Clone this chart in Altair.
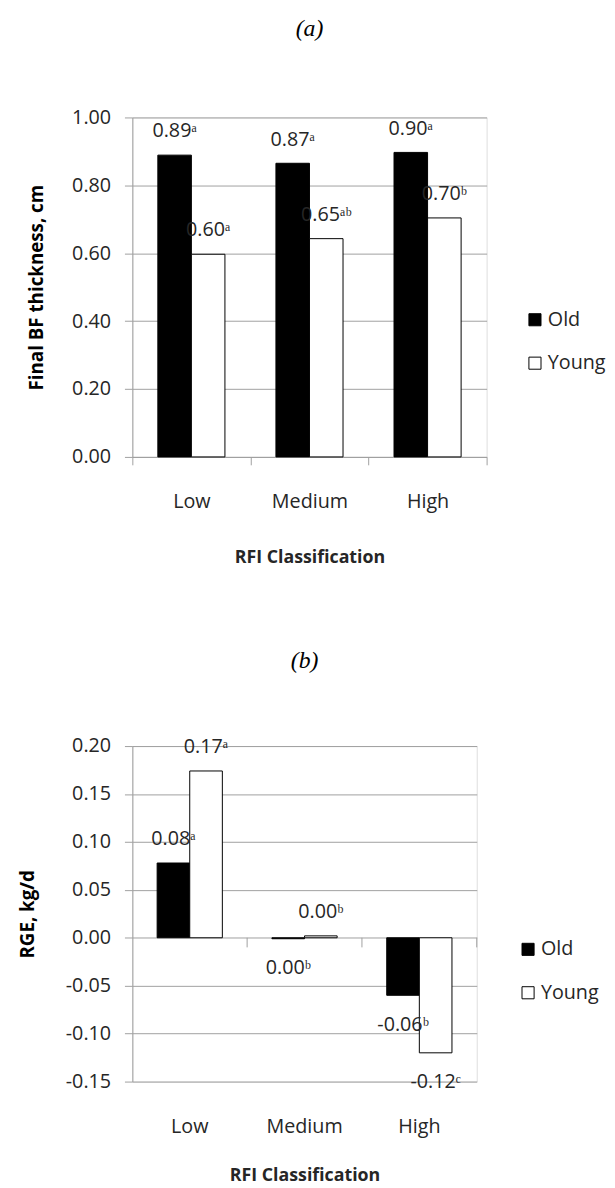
import altair as alt
import pandas as pd

categories = ["Low", "Medium", "High"]
groups = ["Old", "Young"]

# Panel (a): Final BF thickness, cm
bf_old = [0.889, 0.865, 0.897]
bf_young = [0.597, 0.643, 0.704]
bf_old_labels = ["0.89ᵃ", "0.87ᵃ", "0.90ᵃ"]
bf_young_labels = ["0.60ᵃ", "0.65ᵃᵇ", "0.70ᵇ"]
bf_ticks = [0.0, 0.2, 0.4, 0.6, 0.8, 1.0]

# Panel (b): RGE, kg/d
rge_old = [0.078, -0.001, -0.060]
rge_young = [0.174, 0.002, -0.120]
rge_old_labels = ["0.08ᵃ", "0.00ᵇ", "-0.06ᵇ"]
rge_young_labels = ["0.17ᵃ", "0.00ᵇ", "-0.12ᶜ"]
rge_ticks = [-0.15, -0.10, -0.05, 0.0, 0.05, 0.10, 0.15, 0.20]


def make_df(old, young, old_lab, young_lab):
    rows = []
    for i, c in enumerate(categories):
        rows.append({"cat": c, "grp": "Old", "val": old[i], "lab": old_lab[i]})
        rows.append({"cat": c, "grp": "Young", "val": young[i], "lab": young_lab[i]})
    return pd.DataFrame(rows)


df_a = make_df(bf_old, bf_young, bf_old_labels, bf_young_labels)
df_b = make_df(rge_old, rge_young, rge_old_labels, rge_young_labels)
ticks_df = pd.DataFrame({"cat": categories})

FONT = "Open Sans"
TXT = "#262626"
GRID = "#a0a0a0"
LABEL_EXPR = "replace(format(datum.value, '.2f'), '\u2212', '-')"


def panel(df, title, title_offset, ytitle, ydomain, yticks, width, height,
          legend_x, legend_y, zero_axis, y_title_pad, x_title_pad, x_label_pad):
    if zero_axis:
        xaxis = alt.Axis(title="RFI Classification", labelAngle=0, domain=False,
                         ticks=False, grid=False, labelFontSize=20, labelFont=FONT,
                         labelColor=TXT, labelPadding=x_label_pad, titleFont=FONT,
                         titleFontSize=18, titleFontWeight="bold", titleColor=TXT,
                         titlePadding=x_title_pad)
    else:
        xaxis = alt.Axis(title="RFI Classification", labelAngle=0, domainColor=GRID,
                         tickColor=GRID, tickSize=8, tickBand="extent", grid=False,
                         labelFontSize=20, labelFont=FONT, labelColor=TXT,
                         labelPadding=x_label_pad, titleFont=FONT, titleFontSize=18,
                         titleFontWeight="bold", titleColor=TXT,
                         titlePadding=x_title_pad)
    xscale = alt.Scale(paddingInner=0, paddingOuter=0)
    x = alt.X("cat:N", sort=categories, scale=xscale, axis=xaxis)
    xo = alt.XOffset("grp:N", sort=groups,
                     scale=alt.Scale(paddingInner=0, paddingOuter=0.76))
    y = alt.Y("val:Q",
              scale=alt.Scale(domain=ydomain, nice=False, zero=False),
              axis=alt.Axis(values=yticks, labelExpr=LABEL_EXPR, title=ytitle,
                            domainColor=GRID, tickColor=GRID, tickSize=8,
                            gridColor=GRID, labelFontSize=20, labelFont=FONT,
                            labelColor=TXT, labelPadding=14, titleFont=FONT,
                            titleFontSize=19, titleFontWeight="bold",
                            titleColor="black", titlePadding=y_title_pad))
    fill = alt.Fill("grp:N", sort=groups,
                    scale=alt.Scale(domain=groups, range=["black", "white"]),
                    legend=alt.Legend(title=None, orient="none", legendX=legend_x,
                                      legendY=legend_y, symbolType="square",
                                      symbolSize=150, symbolStrokeColor="black",
                                      symbolStrokeWidth=1, labelFontSize=20,
                                      labelFont=FONT, labelColor=TXT, rowPadding=24,
                                      labelOffset=3, padding=0))
    base = alt.Chart(df)
    bars = base.mark_bar(stroke="black", strokeWidth=1).encode(
        x=x, xOffset=xo, y=y, y2=alt.datum(0), fill=fill)
    pos = base.transform_filter("datum.val >= 0").mark_text(
        baseline="middle", align="center", dy=-24, fontSize=20, font=FONT,
        color=TXT).encode(x=x, xOffset=xo, y=y, text="lab:N")
    neg = base.transform_filter("datum.val < 0").mark_text(
        baseline="middle", align="center", dy=30, fontSize=20, font=FONT,
        color=TXT).encode(x=x, xOffset=xo, y=y, text="lab:N")
    layers = [bars, pos, neg]
    if zero_axis:
        xt = alt.X("cat:N", sort=categories, scale=xscale, axis=xaxis, bandPosition=1)
        tick_rules = alt.Chart(ticks_df).mark_rule(color=GRID, strokeWidth=1).encode(
            x=xt, y=alt.datum(0), y2=alt.datum(-0.01))
        layers.append(tick_rules)
    return alt.layer(*layers).properties(
        width=width, height=height,
        title=alt.TitleParams(title, font="Liberation Serif", fontStyle="italic",
                              fontSize=24, fontWeight="normal", color="black",
                              anchor="middle", frame="group", offset=title_offset))


chart_a = panel(df_a, "(a)", 68, "Final BF thickness, cm", [0, 1.0], bf_ticks,
                359, 344, 398, 195, False, 25, 38, 27)
chart_b = panel(df_b, "(b)", 64, "RGE, kg/d", [-0.15, 0.20], rge_ticks,
                349, 340, 391, 196, True, 28, 30, 36)

chart = alt.vconcat(chart_a, chart_b, spacing=82).resolve_scale(
    x="independent", y="independent", fill="independent", xOffset="independent"
).resolve_legend(fill="independent").properties(
    padding={"top": 0, "left": 10, "right": 0, "bottom": 0}
).configure_view(stroke=None).configure(background="white")

chart.save("out.html", embed_options={"renderer": "svg", "actions": False})
